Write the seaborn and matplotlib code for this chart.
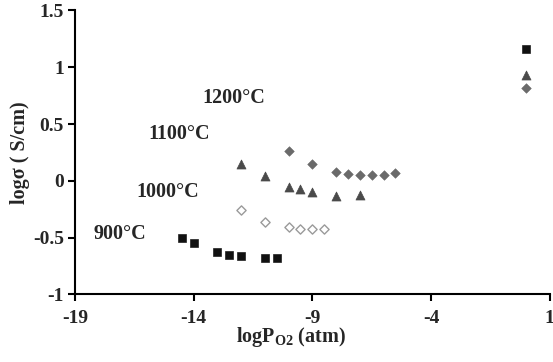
import pandas as pd
import matplotlib
matplotlib.use("Agg")
import matplotlib.pyplot as plt
import seaborn as sns

# 900 C (squares)
x900 = [-14.5, -14, -13, -12.5, -12, -11, -10.5, 0]
y900 = [-0.50, -0.545, -0.63, -0.65, -0.66, -0.68, -0.68, 1.16]
# 1000 C (open diamonds)
x1000 = [-12, -11, -10, -9.5, -9, -8.5]
y1000 = [-0.26, -0.36, -0.41, -0.42, -0.42, -0.42]
# 1100 C (triangles)
x1100 = [-12, -11, -10, -9.5, -9, -8, -7, 0]
y1100 = [0.15, 0.04, -0.05, -0.075, -0.10, -0.13, -0.12, 0.93]
# 1200 C (filled diamonds)
x1200 = [-10, -9, -8, -7.5, -7, -6.5, -6, -5.5, 0]
y1200 = [0.26, 0.15, 0.08, 0.06, 0.05, 0.05, 0.05, 0.07, 0.815]

labels = ["900°C", "1000°C", "1100°C", "1200°C"]
label_x = [-17.1, -15.1, -14.6, -12.3]
label_y = [-0.47, -0.10, 0.41, 0.73]

sns.set_style("white")
plt.rcParams["font.family"] = ["Liberation Serif", "DejaVu Serif"]
plt.rcParams["font.weight"] = "bold"

fig = plt.figure(figsize=(5.53, 3.62), dpi=100)
ax = fig.add_axes([0.1356, 0.1865, 0.8584, 0.7845])

df900 = pd.DataFrame({"x": x900, "y": y900})
df1000 = pd.DataFrame({"x": x1000, "y": y1000})
df1100 = pd.DataFrame({"x": x1100, "y": y1100})
df1200 = pd.DataFrame({"x": x1200, "y": y1200})

sns.scatterplot(data=df900, x="x", y="y", marker="s", s=30, color="#111111",
                edgecolor="#111111", ax=ax, clip_on=False)
sns.scatterplot(data=df1000, x="x", y="y", marker="D", s=22, facecolor="white",
                edgecolor="#9a9a9a", linewidth=1.0, ax=ax)
sns.scatterplot(data=df1100, x="x", y="y", marker="^", s=42, color="#4a4a4a",
                edgecolor="#4a4a4a", ax=ax)
sns.scatterplot(data=df1200, x="x", y="y", marker="D", s=24, color="#6a6a6a",
                edgecolor="#6a6a6a", ax=ax)

for lab, lx, ly in zip(labels, label_x, label_y):
    ax.text(lx, ly, lab, ha="center", va="center", fontsize=14.5, fontweight="bold")

ax.set_xlim(-19, 1)
ax.set_ylim(-1, 1.5)
ax.set_xticks([-19, -14, -9, -4, 1])
ax.set_yticks([-1, -0.5, 0, 0.5, 1, 1.5])
ax.set_yticklabels(["-1", "-0.5", "0", "0.5", "1", "1.5"])
ax.set_xticklabels(["-19", "-14", "-9", "-4", "1"])
ax.tick_params(axis="both", direction="out", length=5, width=1.5,
               labelsize=14, color="black", bottom=True, left=True)
ax.tick_params(axis="x", pad=6)
ax.tick_params(axis="y", pad=3)
for lbl in ax.get_xticklabels() + ax.get_yticklabels():
    lbl.set_fontweight("bold")

sns.despine(ax=ax)
for side in ["left", "bottom"]:
    ax.spines[side].set_color("black")
    ax.spines[side].set_linewidth(1.5)

ax.set_xlabel(r"logP$_\mathregular{O2}$ (atm)", fontsize=14.5, fontweight="bold", labelpad=2)
ax.xaxis.set_label_coords(0.454, -0.15)
ax.xaxis.label.set_va("center")
ax.set_ylabel("logσ ( S/cm)", fontsize=14.5, fontweight="bold", labelpad=2)

fig.savefig("out.png", dpi=100)
